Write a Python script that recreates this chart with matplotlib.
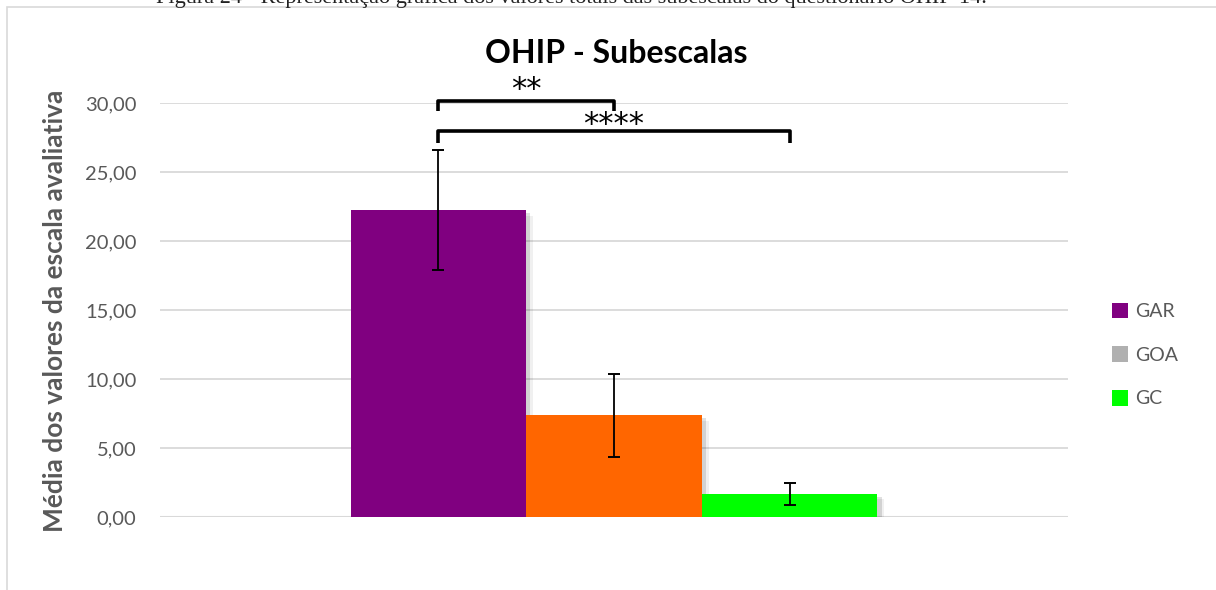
import matplotlib
matplotlib.use("Agg")
import matplotlib.pyplot as plt
import matplotlib.patheffects as pe
from matplotlib.patches import Rectangle, Patch
from matplotlib.ticker import FuncFormatter

groups = ["GAR", "GOA", "GC"]
means = [22.25, 7.37, 1.68]
errors = [4.32, 3.0, 0.82]
bar_colors = ["#800080", "#FF6600", "#00FF00"]
legend_colors = ["#800080", "#B0B0B0", "#00FF00"]
y_ticks = [0, 5, 10, 15, 20, 25, 30]
# significance pairs (index a, index b, label)
sig_pairs = [(0, 1, "**"), (0, 2, "****")]

GRAY_TXT = "#595959"
GRID = "#D9D9D9"

W, H = 1216, 590
fig = plt.figure(figsize=(W / 100, H / 100), dpi=100)

# chart frame (runs off the right and bottom of the page crop)
fig.patches.append(Rectangle((7 / W, -0.1), 1.2, 1.1 - 7 / H,
                             transform=fig.transFigure, fill=False,
                             edgecolor=GRID, lw=1.2, zorder=0))

# caption of the figure, mostly cut off at the top of the page
fig.text(0.470, 1 - 3 / H, "Figura 24 - Representação gráfica dos valores totais "
         "das subescalas do questionário OHIP-14.", ha="center", va="baseline",
         fontsize=16, family="Liberation Serif", color="#222222")

ax = fig.add_axes([160 / W, 1 - 517 / H, (1068 - 160) / W, (517 - 103) / H])

xs = list(range(len(groups)))
shadow = [pe.SimplePatchShadow(offset=(5, -4), shadow_rgbFace="#000000", alpha=0.06),
          pe.SimplePatchShadow(offset=(3, -2), shadow_rgbFace="#000000", alpha=0.12),
          pe.Normal()]
bars = ax.bar(xs, means, width=1.0, color=bar_colors, zorder=3)
for b in bars:
    b.set_path_effects(shadow)
ax.errorbar(xs, means, yerr=errors, fmt="none", ecolor="black", elinewidth=1.3,
            capsize=4.5, capthick=1.4, zorder=4)

ax.set_xlim(-1.585, 3.585)
ax.set_ylim(0, 30)
ax.set_yticks(y_ticks)
ax.yaxis.set_major_formatter(FuncFormatter(lambda v, _: f"{v:.2f}".replace(".", ",")))
ax.set_xticks([])
ax.tick_params(axis="y", length=0, pad=17, labelsize=14.5, labelcolor=GRAY_TXT)
for lab in ax.get_yticklabels():
    lab.set_family("Lato")
ax.grid(axis="y", color=GRID, lw=1.3, zorder=0)
for s in ax.spines.values():
    s.set_visible(False)
ax.axhline(0, color=GRID, lw=1.5, zorder=1)

fig.text(55 / W, 1 - 311 / H, "Média dos valores da escala avaliativa",
         rotation=90, ha="center", va="center", fontsize=19,
         fontweight="bold", color=GRAY_TXT, family="Lato")

fig.text(616 / W, 1 - 63 / H, "OHIP - Subescalas", ha="center", va="baseline",
         fontsize=23, fontweight="bold", family="Lato", color="black")

# significance brackets, stars centred above each bracket
tops = [30.17, 28.0]
legs = [29.44, 27.1]
star_y = [30.95, 28.45]
for (a, b, lab), top, leg, sy in zip(sig_pairs, tops, legs, star_y):
    ax.plot([a, a, b, b], [leg, top, top, leg], color="black", lw=2.6,
            solid_joinstyle="round", solid_capstyle="butt", clip_on=False, zorder=5)
    ax.text((a + b) / 2, sy, lab, ha="center", va="center",
            fontsize=22, color="black", family="DejaVu Sans", clip_on=False)

handles = [Patch(facecolor=c, edgecolor="none", label=g)
           for g, c in zip(groups, legend_colors)]
leg = fig.legend(handles=handles, loc="center left",
                 bbox_to_anchor=(1094 / W, 1 - 355 / H), frameon=False,
                 prop={"family": "Lato", "size": 14}, labelcolor=GRAY_TXT,
                 handlelength=0.85, handleheight=0.85, handletextpad=0.35,
                 labelspacing=1.35)

fig.savefig("out.png", dpi=100)
